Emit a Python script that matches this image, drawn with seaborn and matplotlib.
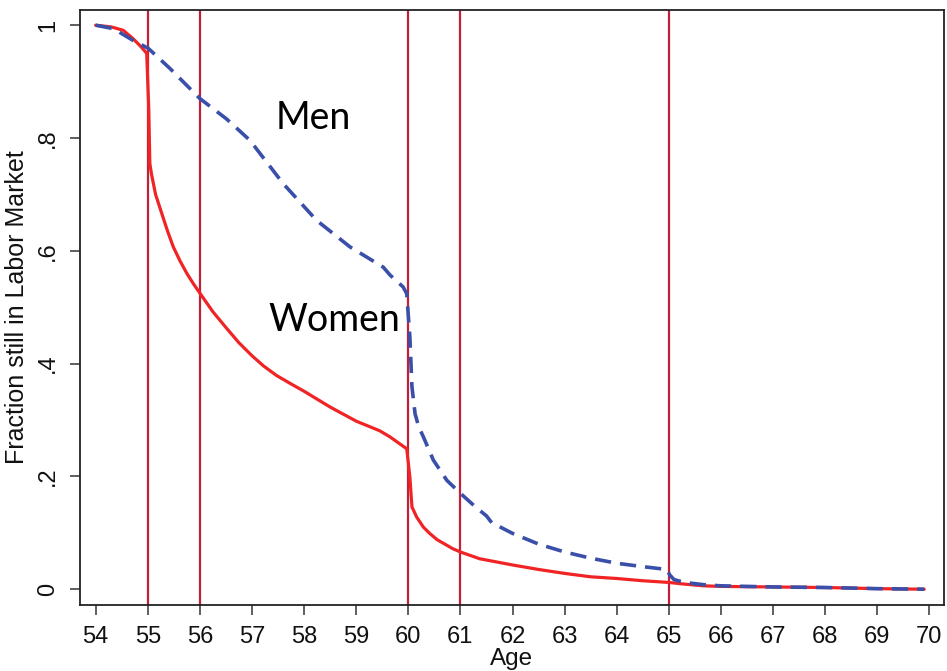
import pandas as pd
import matplotlib
matplotlib.use('Agg')
import matplotlib.pyplot as plt
import seaborn as sns

# --- Data ---
women_age = [54.0, 54.3, 54.53, 54.72, 54.88, 54.98, 55.02, 55.04, 55.07, 55.15, 55.27, 55.38,
             55.49, 55.62, 55.75, 55.88, 56.0, 56.25, 56.51, 56.75, 57.0, 57.22, 57.47, 57.75,
             58.0, 58.5, 59.0, 59.45, 59.65, 59.97, 60.03, 60.07, 60.16, 60.29, 60.41, 60.55,
             60.7, 60.85, 61.0, 61.37, 62.0, 62.5, 63.0, 63.5, 64.0, 64.5, 65.0, 65.3, 65.67,
             66.0, 67.0, 68.0, 68.5, 69.0, 69.9]
women_frac = [1.0, 0.997, 0.991, 0.976, 0.961, 0.95, 0.85, 0.755, 0.737, 0.70, 0.666, 0.635,
              0.607, 0.582, 0.56, 0.541, 0.525, 0.492, 0.463, 0.437, 0.414, 0.396, 0.379,
              0.364, 0.351, 0.323, 0.298, 0.281, 0.27, 0.249, 0.199, 0.146, 0.128, 0.11, 0.099,
              0.088, 0.08, 0.072, 0.066, 0.054, 0.043, 0.035, 0.028, 0.022, 0.019, 0.015, 0.012,
              0.009, 0.006, 0.005, 0.004, 0.003, 0.002, 0.001, 0.0]

men_age = [54.0, 54.34, 54.72, 55.01, 55.43, 56.0, 56.51, 56.96, 57.6, 58.24, 58.88, 59.52,
           59.65, 59.9, 59.97, 60.03, 60.07, 60.13, 60.2, 60.29, 60.48, 60.74, 61.0, 61.3,
           61.5, 61.6, 62.0, 62.5, 63.0, 63.5, 64.0, 64.5, 64.96, 65.02, 65.1, 65.3, 65.67,
           66.0, 67.0, 68.0, 69.0, 69.9]
men_frac = [1.0, 0.994, 0.973, 0.959, 0.923, 0.870, 0.834, 0.796, 0.719, 0.654, 0.607, 0.571,
            0.557, 0.536, 0.524, 0.447, 0.359, 0.311, 0.288, 0.27, 0.229, 0.193, 0.17, 0.145,
            0.13, 0.118, 0.099, 0.08, 0.066, 0.055, 0.046, 0.04, 0.035, 0.025, 0.017, 0.012,
            0.008, 0.006, 0.004, 0.003, 0.001, 0.0]

cutoff_ages = [55, 56, 60, 61, 65]
x_ticks = list(range(54, 71))
y_ticks = [0, 0.2, 0.4, 0.6, 0.8, 1.0]
y_tick_labels = ['0', '.2', '.4', '.6', '.8', '1']

sns.set_theme(style="ticks")
plt.rcParams['font.family'] = ['Liberation Sans', 'DejaVu Sans']

df_w = pd.DataFrame({'age': women_age, 'frac': women_frac})
df_m = pd.DataFrame({'age': men_age, 'frac': men_frac})

fig = plt.figure(figsize=(9.47, 6.71), dpi=100)
ax = fig.add_axes([80 / 947, 1 - 605 / 671, 864 / 947, 595 / 671])

for a in cutoff_ages:
    ax.axvline(a, color='#C0203A', linewidth=1.6, zorder=1)

sns.lineplot(data=df_w, x='age', y='frac', ax=ax, color='#F02424', linewidth=2.3,
             estimator=None, sort=False, zorder=3)
sns.lineplot(data=df_m, x='age', y='frac', ax=ax, color='#3A4FAA', linewidth=2.6,
             estimator=None, sort=False, zorder=4, dashes=False)
ax.lines[-1].set_dashes([4.5, 2.5])

ax.set_xlim(53.70, 70.28)
ax.set_ylim(-0.028, 1.027)
ax.set_xticks(x_ticks)
ax.set_yticks(y_ticks)
ax.set_yticklabels(y_tick_labels)
ax.tick_params(axis='both', labelsize=17, length=7, width=1.1, color='#333333',
               labelcolor='#111111', pad=8)
ax.tick_params(axis='y', labelrotation=90)
for lbl in ax.get_yticklabels():
    lbl.set_va('center')
ax.set_xlabel('Age', fontsize=17.5, labelpad=0, color='#111111')
ax.set_ylabel('Fraction still in Labor Market', fontsize=18, labelpad=6, color='#111111')
for s in ax.spines.values():
    s.set_color('#222222')
    s.set_linewidth(1.3)

ax.text(58.17, 0.835, 'Men', fontsize=27, family=['Lato', 'DejaVu Sans'],
        ha='center', va='center', color='black')
ax.text(58.58, 0.478, 'Women', fontsize=27, family=['Lato', 'DejaVu Sans'],
        ha='center', va='center', color='black')

fig.savefig('out.png', dpi=100)
plt.close(fig)
